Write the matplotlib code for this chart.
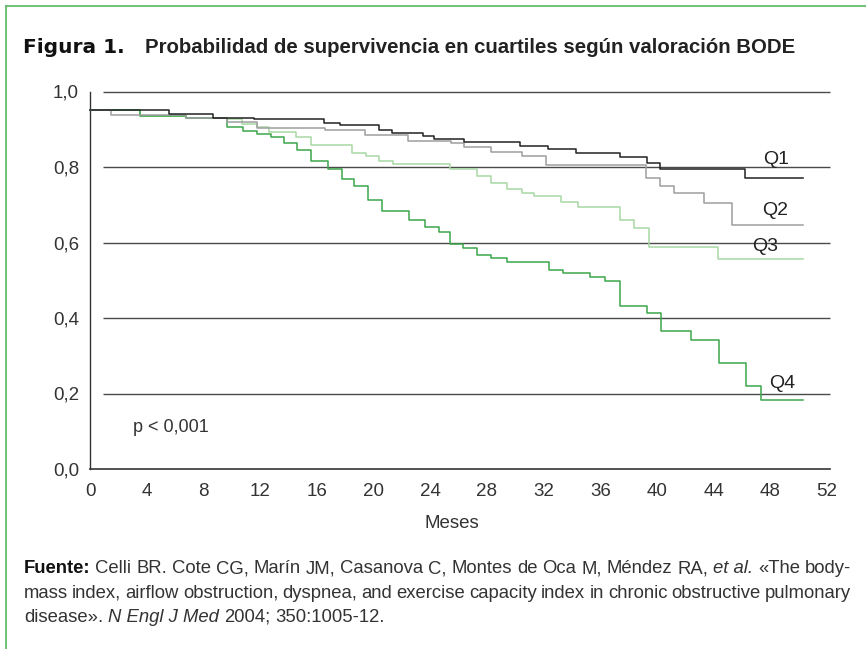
import matplotlib
matplotlib.use("Agg")
import matplotlib.pyplot as plt
from matplotlib.lines import Line2D

W, H = 866, 649

# Kaplan-Meier steps (months, survival)
Q1_T = [0, 5.6, 8.7, 11.6, 16.5, 17.6, 20.4, 21.3, 23.5, 24.3, 26.4, 30.3, 32.3,
        34.3, 37.4, 39.3, 40.2, 46.2]
Q1_S = [0.95, 0.941, 0.931, 0.926, 0.917, 0.911, 0.899, 0.891, 0.881, 0.874, 0.866,
        0.856, 0.847, 0.838, 0.826, 0.810, 0.794, 0.771]
Q2_T = [0, 1.5, 6.8, 9.65, 11.8, 16.6, 19.4, 22.4, 25.5, 26.4, 28.3, 30.5, 32.2,
        39.2, 40.2, 41.2, 43.3, 45.3]
Q2_S = [0.95, 0.938, 0.930, 0.919, 0.904, 0.899, 0.884, 0.870, 0.863, 0.853, 0.841,
        0.829, 0.806, 0.770, 0.749, 0.730, 0.705, 0.647]
Q3_T = [0, 3.5, 6.8, 9.65, 10.7, 11.8, 12.6, 14.5, 15.6, 18.5, 19.5, 20.4, 21.4,
        25.4, 27.3, 28.3, 29.4, 30.5, 31.3, 33.2, 34.4, 37.4, 38.4, 39.4, 44.3]
Q3_S = [0.95, 0.935, 0.930, 0.926, 0.914, 0.905, 0.892, 0.879, 0.859, 0.837, 0.828,
        0.817, 0.809, 0.796, 0.776, 0.757, 0.742, 0.731, 0.722, 0.708, 0.695, 0.660,
        0.638, 0.588, 0.555]
Q4_T = [0, 3.5, 6.8, 9.65, 10.8, 11.8, 12.75, 13.7, 14.6, 15.6, 16.8, 17.8, 18.65,
        19.6, 20.6, 22.5, 23.6, 24.6, 25.4, 26.3, 27.3, 28.3, 29.4, 32.4, 33.4, 35.3,
        36.3, 37.4, 39.3, 40.3, 42.4, 44.4, 46.3, 47.3]
Q4_S = [0.95, 0.935, 0.930, 0.907, 0.895, 0.888, 0.879, 0.864, 0.844, 0.815, 0.794,
        0.768, 0.749, 0.713, 0.683, 0.659, 0.641, 0.628, 0.597, 0.586, 0.566, 0.559,
        0.549, 0.528, 0.518, 0.508, 0.498, 0.432, 0.412, 0.365, 0.343, 0.280, 0.220,
        0.183]
END_T = 50.3

X_TICKS = list(range(0, 53, 4))
Y_TICKS = [0.0, 0.2, 0.4, 0.6, 0.8, 1.0]
Y_LABELS = ["0,0", "0,2", "0,4", "0,6", "0,8", "1,0"]

TITLE_NUM = "Figura 1."
TITLE = "Probabilidad de supervivencia en cuartiles según valoración BODE"
FOOT_LINES = [
    [("Fuente:", "b"), ("Celli", "n"), ("BR.", "n"), ("Cote", "n"), ("CG,", "n"),
     ("Marín", "n"), ("JM,", "n"), ("Casanova", "n"), ("C,", "n"), ("Montes", "n"),
     ("de", "n"), ("Oca", "n"), ("M,", "n"), ("Méndez", "n"), ("RA,", "n"),
     ("et al.", "i"), ("«The", "n"), ("body-", "n")],
    [(w, "n") for w in ("mass index, airflow obstruction, dyspnea, and exercise "
                        "capacity index in chronic obstructive pulmonary").split()],
    [("disease».", "n"), ("N Engl J Med", "i"), ("2004;", "n"), ("350:1005-12.", "n")],
]

FONT = "Liberation Sans"
TEXT = "#333333"
GREEN_BORDER = "#66bb6a"


def fx(px):
    return px / W


def fy(py):
    return 1 - py / H


fig = plt.figure(figsize=(W / 100, H / 100), dpi=100)
plt.rcParams["font.family"] = [FONT, "DejaVu Sans"]

ax = fig.add_axes([fx(90), fy(469), fx(830) - fx(90), fy(91.5) - fy(469)])
ax.set_xlim(0, 52.2)
ax.set_ylim(0, 1)

ax.hlines(Y_TICKS[1:], 0.9, 52.2, color="#4a4a4a", lw=1.0, clip_on=False, zorder=1)

curves = [(Q3_T, Q3_S, "#a8d8a4"), (Q4_T, Q4_S, "#3aa54a"),
          (Q2_T, Q2_S, "#9e9e9e"), (Q1_T, Q1_S, "#222222")]
for times, surv, colour in curves:
    ax.step(times + [END_T], surv + [surv[-1]], where="post", color=colour,
            lw=1.1, zorder=3, clip_on=False)

for name, x, y in [("Q1", 48.4, 0.82), ("Q2", 48.3, 0.685),
                   ("Q3", 47.6, 0.589), ("Q4", 48.8, 0.226)]:
    ax.text(x, y, name, fontsize=14, color="#222222", ha="center", va="center",
            zorder=5)

ax.text(3.0, 0.111, "p < 0,001", fontsize=13, color=TEXT, ha="left", va="center")

for side in ("top", "right"):
    ax.spines[side].set_visible(False)
ax.spines["left"].set_color("#333333")
ax.spines["left"].set_linewidth(1.0)
ax.spines["bottom"].set_color("#333333")
ax.spines["bottom"].set_linewidth(1.2)
ax.spines["bottom"].set_bounds(0, 52.2)

ax.set_xticks(X_TICKS)
ax.set_xticklabels([str(t) for t in X_TICKS])
ax.set_yticks(Y_TICKS)
ax.set_yticklabels(Y_LABELS)
ax.tick_params(length=0, labelsize=13.5, labelcolor=TEXT)
ax.tick_params(axis="x", pad=10)
ax.tick_params(axis="y", pad=8)

fig.text(fx(452), fy(523), "Meses", fontsize=13.5, color=TEXT, ha="center",
         va="center")

# border
fig.add_artist(Line2D([fx(6), fx(6)], [0, fy(6)], transform=fig.transFigure,
                      color=GREEN_BORDER, lw=1.3))
fig.add_artist(Line2D([fx(6), 1], [fy(6), fy(6)], transform=fig.transFigure,
                      color=GREEN_BORDER, lw=1.3))

renderer = fig.canvas.get_renderer()

# title
fig.text(fx(23), fy(53), TITLE_NUM, fontsize=14.5, fontweight="bold",
         family=["DejaVu Sans"], color="#111111", va="baseline")
fig.text(fx(145), fy(53), TITLE, fontsize=14.7, fontweight="bold",
         color="#222222", va="baseline")

# footnote, justified like the source
STYLE = {"n": dict(color=TEXT), "b": dict(color="#111111", fontweight="bold"),
         "i": dict(color=TEXT, style="italic")}
FOOT_SIZE = 13.3


def width(text, kind):
    tmp = fig.text(0, 0, text, fontsize=FOOT_SIZE, **STYLE[kind])
    w = tmp.get_window_extent(renderer).width
    tmp.remove()
    return w


space = width("a a", "n") - width("aa", "n")
for row, (tokens, base) in enumerate(zip(FOOT_LINES, (573, 597.5, 622))):
    widths = [width(word, kind) for word, kind in tokens]
    if row < 2:
        gap = max(space * 0.8, (851 - 24 - sum(widths)) / (len(tokens) - 1))
    else:
        gap = space
    x = 24
    for (word, kind), w in zip(tokens, widths):
        fig.text(fx(x), fy(base), word, fontsize=FOOT_SIZE, va="baseline",
                 **STYLE[kind])
        x += w + gap

fig.savefig("out.png", dpi=100, facecolor="white")
